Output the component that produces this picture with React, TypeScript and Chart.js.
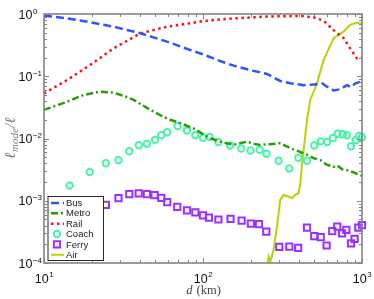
import React, { useEffect, useRef } from "react";
import { Chart, registerables } from "chart.js";

Chart.register(...registerables);

// ---------- data ----------
const seriesLabels = ["Bus", "Metro", "Rail", "Coach", "Ferry", "Air"];

const busD = [10, 14, 19.5, 27.4, 40.4, 59.4, 83, 100, 128, 156, 208, 253, 306, 354, 430, 497, 560, 603, 663, 731, 805, 853, 908, 1000];
const busV = [0.94, 0.85, 0.74, 0.625, 0.49, 0.36, 0.264, 0.225, 0.176, 0.148, 0.122, 0.109, 0.084, 0.077, 0.072, 0.074, 0.077, 0.068, 0.059, 0.062, 0.072, 0.067, 0.077, 0.083];

const metroD = [10, 12, 14, 17.7, 22.6, 27.4, 32, 36.6, 46.7, 55, 62.2, 72, 87, 106, 115, 128, 156, 170, 189, 210, 229, 260, 306, 354, 400, 451, 500, 547, 600, 663, 700, 750, 805, 870, 930, 975, 1000];
const metroV = [0.0288, 0.034, 0.039, 0.05, 0.0566, 0.0546, 0.048, 0.0417, 0.0288, 0.023, 0.02, 0.0176, 0.0146, 0.0107, 0.0098, 0.0089, 0.0079, 0.0084, 0.0089, 0.0082, 0.0079, 0.0081, 0.0084, 0.007, 0.0062, 0.0055, 0.0048, 0.0045, 0.0038, 0.0035, 0.0037, 0.0032, 0.0031, 0.0029, 0.0027, 0.0026, 0.0025];

const railD = [10, 14, 19.5, 27.4, 40.4, 59.4, 83, 100, 156, 253, 409, 497, 574, 663, 766, 843, 929, 1000];
const railV = [0.053, 0.087, 0.152, 0.28, 0.49, 0.625, 0.71, 0.77, 0.85, 0.91, 0.93, 0.885, 0.78, 0.55, 0.41, 0.28, 0.194, 0.206];

const coachD = [14.5, 19.4, 24.5, 29.4, 34.4, 39.5, 44.4, 49.9, 54.7, 59.6, 69.2, 79.3, 89.5, 100, 110, 125, 148, 174, 199, 227, 251, 299, 349, 397, 451, 501, 550, 605, 657, 703, 755, 805, 853, 912, 958, 1000];
const coachV = [1.75e-3, 2.88e-3, 4.0e-3, 4.5e-3, 6.25e-3, 7.8e-3, 8.2e-3, 9.5e-3, 1.13e-2, 1.26e-2, 1.59e-2, 1.34e-2, 1.13e-2, 1.03e-2, 1.06e-2, 8.8e-3, 7.7e-3, 6.9e-3, 6.4e-3, 6.6e-3, 5.7e-3, 4.4e-3, 3.3e-3, 4.9e-3, 4.4e-3, 7.7e-3, 9.0e-3, 8.8e-3, 1.02e-2, 1.19e-2, 1.17e-2, 1.13e-2, 7.5e-3, 9.4e-3, 1.1e-2, 1.05e-2];

const ferryD = [24.5, 29.4, 34.4, 39.4, 44.4, 49.6, 54.7, 59.6, 68.9, 79.3, 89.5, 100, 109, 125, 149, 175, 200, 225, 250, 302, 349, 397, 451, 501, 550, 599, 650, 699, 749, 797, 853, 898, 948, 1000];
const ferryV = [8.6e-4, 1.1e-3, 1.28e-3, 1.31e-3, 1.28e-3, 1.23e-3, 1.11e-3, 9.5e-4, 8.0e-4, 7.0e-4, 6.5e-4, 5.8e-4, 5.35e-4, 5.0e-4, 5.1e-4, 4.8e-4, 4.3e-4, 4.2e-4, 3.2e-4, 1.82e-4, 1.84e-4, 1.75e-4, 3.7e-4, 2.7e-4, 2.6e-4, 1.91e-4, 3.25e-4, 3.85e-4, 3.0e-4, 3.4e-4, 2.06e-4, 2.45e-4, 3.7e-4, 4.06e-4];

const airD = [248, 255, 259, 265, 271, 278, 292, 306, 321, 345, 363, 381, 399, 409, 420, 430, 451, 473, 521, 574, 663, 766, 843, 929, 1000];
const airV = [6e-5, 1.0e-4, 1.27e-4, 1.06e-4, 1.27e-4, 1.63e-4, 3.85e-4, 1.03e-3, 1.24e-3, 1.17e-3, 1.1e-3, 1.24e-3, 1.32e-3, 1.9e-3, 4.0e-3, 6.6e-3, 0.02, 0.042, 0.077, 0.183, 0.41, 0.52, 0.67, 0.73, 0.69];

const xTickValues = [10, 100, 1000];
const yTickValues = [1e-4, 1e-3, 1e-2, 1e-1, 1];
const xTitleItalic = "d";
const xTitleRoman = " (km)";
const yTitleMain = "ℓ";
const yTitleSub = "mode";
const yTitleTail = "/ℓ";

// ---------- helpers ----------
const pts = (d: number[], v: number[]) => d.map((x, i) => ({ x, y: v[i] }));

const SUP: Record<string, string> = { "-": "\u2212" };
const expText = (v: number) =>
  String(Math.round(Math.log10(v))).split("").map((c) => SUP[c] || c).join("");

const FRAME = "#858585";
const SANS = '"Liberation Sans", Arial, sans-serif';
const SERIF = '"Liberation Serif", "DejaVu Serif", serif';

function minorTicks(min: number, max: number) {
  const out: { value: number }[] = [];
  const lo = Math.floor(Math.log10(min));
  const hi = Math.ceil(Math.log10(max));
  for (let e = lo; e <= hi; e++) {
    for (let k = 1; k <= 9; k++) {
      const v = k * Math.pow(10, e);
      if (v >= min * 0.999 && v <= max * 1.001) out.push({ value: v });
    }
  }
  return out;
}

const decor = {
  id: "decor",
  afterDraw(chart: any) {
    const ctx = chart.ctx as CanvasRenderingContext2D;
    const a = chart.chartArea;
    const xs = chart.scales.x;
    const ys = chart.scales.y;
    ctx.save();

    // frame
    ctx.strokeStyle = FRAME;
    ctx.lineWidth = 1.6;
    ctx.strokeRect(a.left, a.top, a.right - a.left, a.bottom - a.top);

    // inward ticks
    ctx.lineWidth = 1;
    const isMajor = (v: number) => Math.abs(Math.log10(v) - Math.round(Math.log10(v))) < 1e-6;
    xs.ticks.forEach((t: any) => {
      const px = Math.round(xs.getPixelForValue(t.value)) + 0.5;
      const len = isMajor(t.value) ? 5 : 3;
      ctx.beginPath();
      ctx.moveTo(px, a.bottom);
      ctx.lineTo(px, a.bottom - len);
      ctx.moveTo(px, a.top);
      ctx.lineTo(px, a.top + len);
      ctx.stroke();
    });
    ys.ticks.forEach((t: any) => {
      const py = Math.round(ys.getPixelForValue(t.value)) + 0.5;
      const len = isMajor(t.value) ? 5 : 3;
      ctx.beginPath();
      ctx.moveTo(a.left, py);
      ctx.lineTo(a.left + len, py);
      ctx.moveTo(a.right, py);
      ctx.lineTo(a.right - len, py);
      ctx.stroke();
    });

    // tick labels
    const baseFont = `12.5px ${SANS}`;
    const expFont = `8px ${SANS}`;
    ctx.fillStyle = "#111";
    ctx.textBaseline = "alphabetic";
    ctx.textAlign = "left";
    yTickValues.forEach((v) => {
      const py = ys.getPixelForValue(v);
      ctx.font = baseFont;
      const bx = a.left - 25.5;
      ctx.fillText("10", bx, py + 4.5);
      const bw = ctx.measureText("10").width;
      ctx.font = expFont;
      ctx.fillText(expText(v), bx + bw + 0.5, py - 0.5);
    });
    xTickValues.forEach((v) => {
      const px = xs.getPixelForValue(v);
      ctx.font = baseFont;
      const bw = ctx.measureText("10").width;
      ctx.font = expFont;
      const ew = ctx.measureText(expText(v)).width;
      const sx = px - (bw + ew) / 2;
      ctx.font = baseFont;
      ctx.fillText("10", sx, a.bottom + 20);
      ctx.font = expFont;
      ctx.fillText(expText(v), sx + bw + 0.5, a.bottom + 13.5);
    });

    // x title
    ctx.fillStyle = "#444";
    const itF = `italic 12.5px ${SERIF}`;
    const rmF = `12.5px ${SERIF}`;
    ctx.font = itF;
    const w1 = ctx.measureText(xTitleItalic).width;
    ctx.font = rmF;
    const w2 = ctx.measureText(xTitleRoman).width;
    const xc = (a.left + a.right) / 2;
    const sx = xc - (w1 + w2) / 2;
    ctx.font = itF;
    ctx.fillText(xTitleItalic, sx, a.bottom + 31);
    ctx.font = rmF;
    ctx.fillText(xTitleRoman, sx + w1 + 1, a.bottom + 31);

    // y title (rotated)
    ctx.save();
    ctx.translate(15, (a.top + a.bottom) / 2);
    ctx.rotate(-Math.PI / 2);
    ctx.fillStyle = "#7a7a7a";
    const mF = `italic 15px ${SERIF}`;
    const sF = `italic 11px ${SERIF}`;
    ctx.font = mF;
    const m1 = ctx.measureText(yTitleMain).width;
    const m3 = ctx.measureText(yTitleTail).width;
    ctx.font = sF;
    const m2 = ctx.measureText(yTitleSub).width;
    const tx = -(m1 + m2 + m3) / 2;
    ctx.font = mF;
    ctx.fillText(yTitleMain, tx, 0);
    ctx.font = sF;
    ctx.fillText(yTitleSub, tx + m1 + 0.5, 3);
    ctx.font = mF;
    ctx.fillText(yTitleTail, tx + m1 + m2 + 1, 0);
    ctx.restore();

    // legend
    const lx = a.left + 3.5;
    const ly = a.top + 182;
    const lw = 55.5;
    const lh = 64;
    ctx.fillStyle = "#fff";
    ctx.fillRect(lx, ly, lw, lh);
    ctx.strokeStyle = "#2a2a2a";
    ctx.lineWidth = 1;
    ctx.strokeRect(lx + 0.5, ly + 0.5, lw, lh);
    const rowH = 10.35;
    chart.data.datasets.forEach((ds: any, i: number) => {
      const cy = ly + 7 + i * rowH;
      const x0 = lx + 3.5;
      const x1 = lx + 15.5;
      ctx.save();
      if (ds.showLine) {
        ctx.strokeStyle = ds.borderColor;
        ctx.lineWidth = ds.borderWidth;
        ctx.setLineDash(ds.borderDash || []);
        ctx.beginPath();
        ctx.moveTo(x0, cy);
        ctx.lineTo(x1 + 1, cy);
        ctx.stroke();
      } else {
        ctx.strokeStyle = ds.pointBorderColor;
        ctx.lineWidth = ds.pointBorderWidth;
        const mx = (x0 + x1) / 2;
        ctx.beginPath();
        if (ds.pointStyle === "circle") {
          ctx.arc(mx, cy, ds.pointRadius, 0, Math.PI * 2);
        } else {
          const s = ds.pointRadius * Math.SQRT1_2;
          ctx.rect(mx - s, cy - s, 2 * s, 2 * s);
        }
        ctx.stroke();
      }
      ctx.restore();
      ctx.fillStyle = "#222";
      ctx.font = `9.5px ${SANS}`;
      ctx.textBaseline = "middle";
      ctx.fillText(ds.label, lx + 18.5, cy + 0.5);
      ctx.textBaseline = "alphabetic";
    });

    ctx.restore();
  },
};

const lineDs = (label: string, d: number[], v: number[], color: string, dash: number[], width: number) => ({
  label,
  data: pts(d, v),
  showLine: true,
  borderColor: color,
  backgroundColor: color,
  borderWidth: width,
  borderDash: dash,
  pointRadius: 0,
  tension: 0,
  clip: 0,
});

const markerDs = (label: string, d: number[], v: number[], color: string, style: string, r: number) => ({
  label,
  data: pts(d, v),
  showLine: false,
  pointStyle: style,
  pointRadius: r,
  pointBorderWidth: 2,
  pointBorderColor: color,
  pointBackgroundColor: "rgba(255,255,255,0)",
  borderColor: color,
  backgroundColor: "rgba(255,255,255,0)",
  clip: false,
});

export default function App() {
  const ref = useRef<HTMLCanvasElement | null>(null);
  useEffect(() => {
    document.body.style.margin = "0";
    const chart = new Chart(ref.current as HTMLCanvasElement, {
      type: "scatter",
      data: {
        datasets: [
          lineDs(seriesLabels[0], busD, busV, "#2f55ff", [8, 4], 2.5),
          lineDs(seriesLabels[1], metroD, metroV, "#23a000", [7, 3, 2, 3], 2.5),
          lineDs(seriesLabels[2], railD, railV, "#ff1010", [2.5, 3.5], 2.5),
          markerDs(seriesLabels[3], coachD, coachV, "#44f5a8", "circle", 3.2),
          markerDs(seriesLabels[4], ferryD, ferryV, "#9b30ff", "rect", 4.4),
          lineDs(seriesLabels[5], airD, airV, "#b9d400", [], 2),
        ] as any,
      },
      options: {
        animation: false,
        responsive: true,
        maintainAspectRatio: false,
        layout: { padding: { left: 44, top: 14, right: 12, bottom: 36 }, autoPadding: false },
        plugins: { legend: { display: false }, tooltip: { enabled: false } },
        scales: {
          x: {
            type: "logarithmic",
            min: xTickValues[0],
            max: xTickValues[xTickValues.length - 1],
            grid: { display: false },
            border: { display: false },
            ticks: { display: false },
            afterBuildTicks: (s: any) => {
              s.ticks = minorTicks(s.min, s.max);
            },
            afterFit: (s: any) => {
              s.height = 0;
            },
          },
          y: {
            type: "logarithmic",
            min: yTickValues[0],
            max: yTickValues[yTickValues.length - 1],
            grid: { display: false },
            border: { display: false },
            ticks: { display: false },
            afterBuildTicks: (s: any) => {
              s.ticks = minorTicks(s.min, s.max);
            },
            afterFit: (s: any) => {
              s.width = 0;
            },
          },
        },
      } as any,
      plugins: [decor],
    });
    return () => chart.destroy();
  }, []);
  return (
    <div style={{ position: "absolute", left: 0, top: 0, width: 374, height: 299 }}>
      <canvas ref={ref} />
    </div>
  );
}
